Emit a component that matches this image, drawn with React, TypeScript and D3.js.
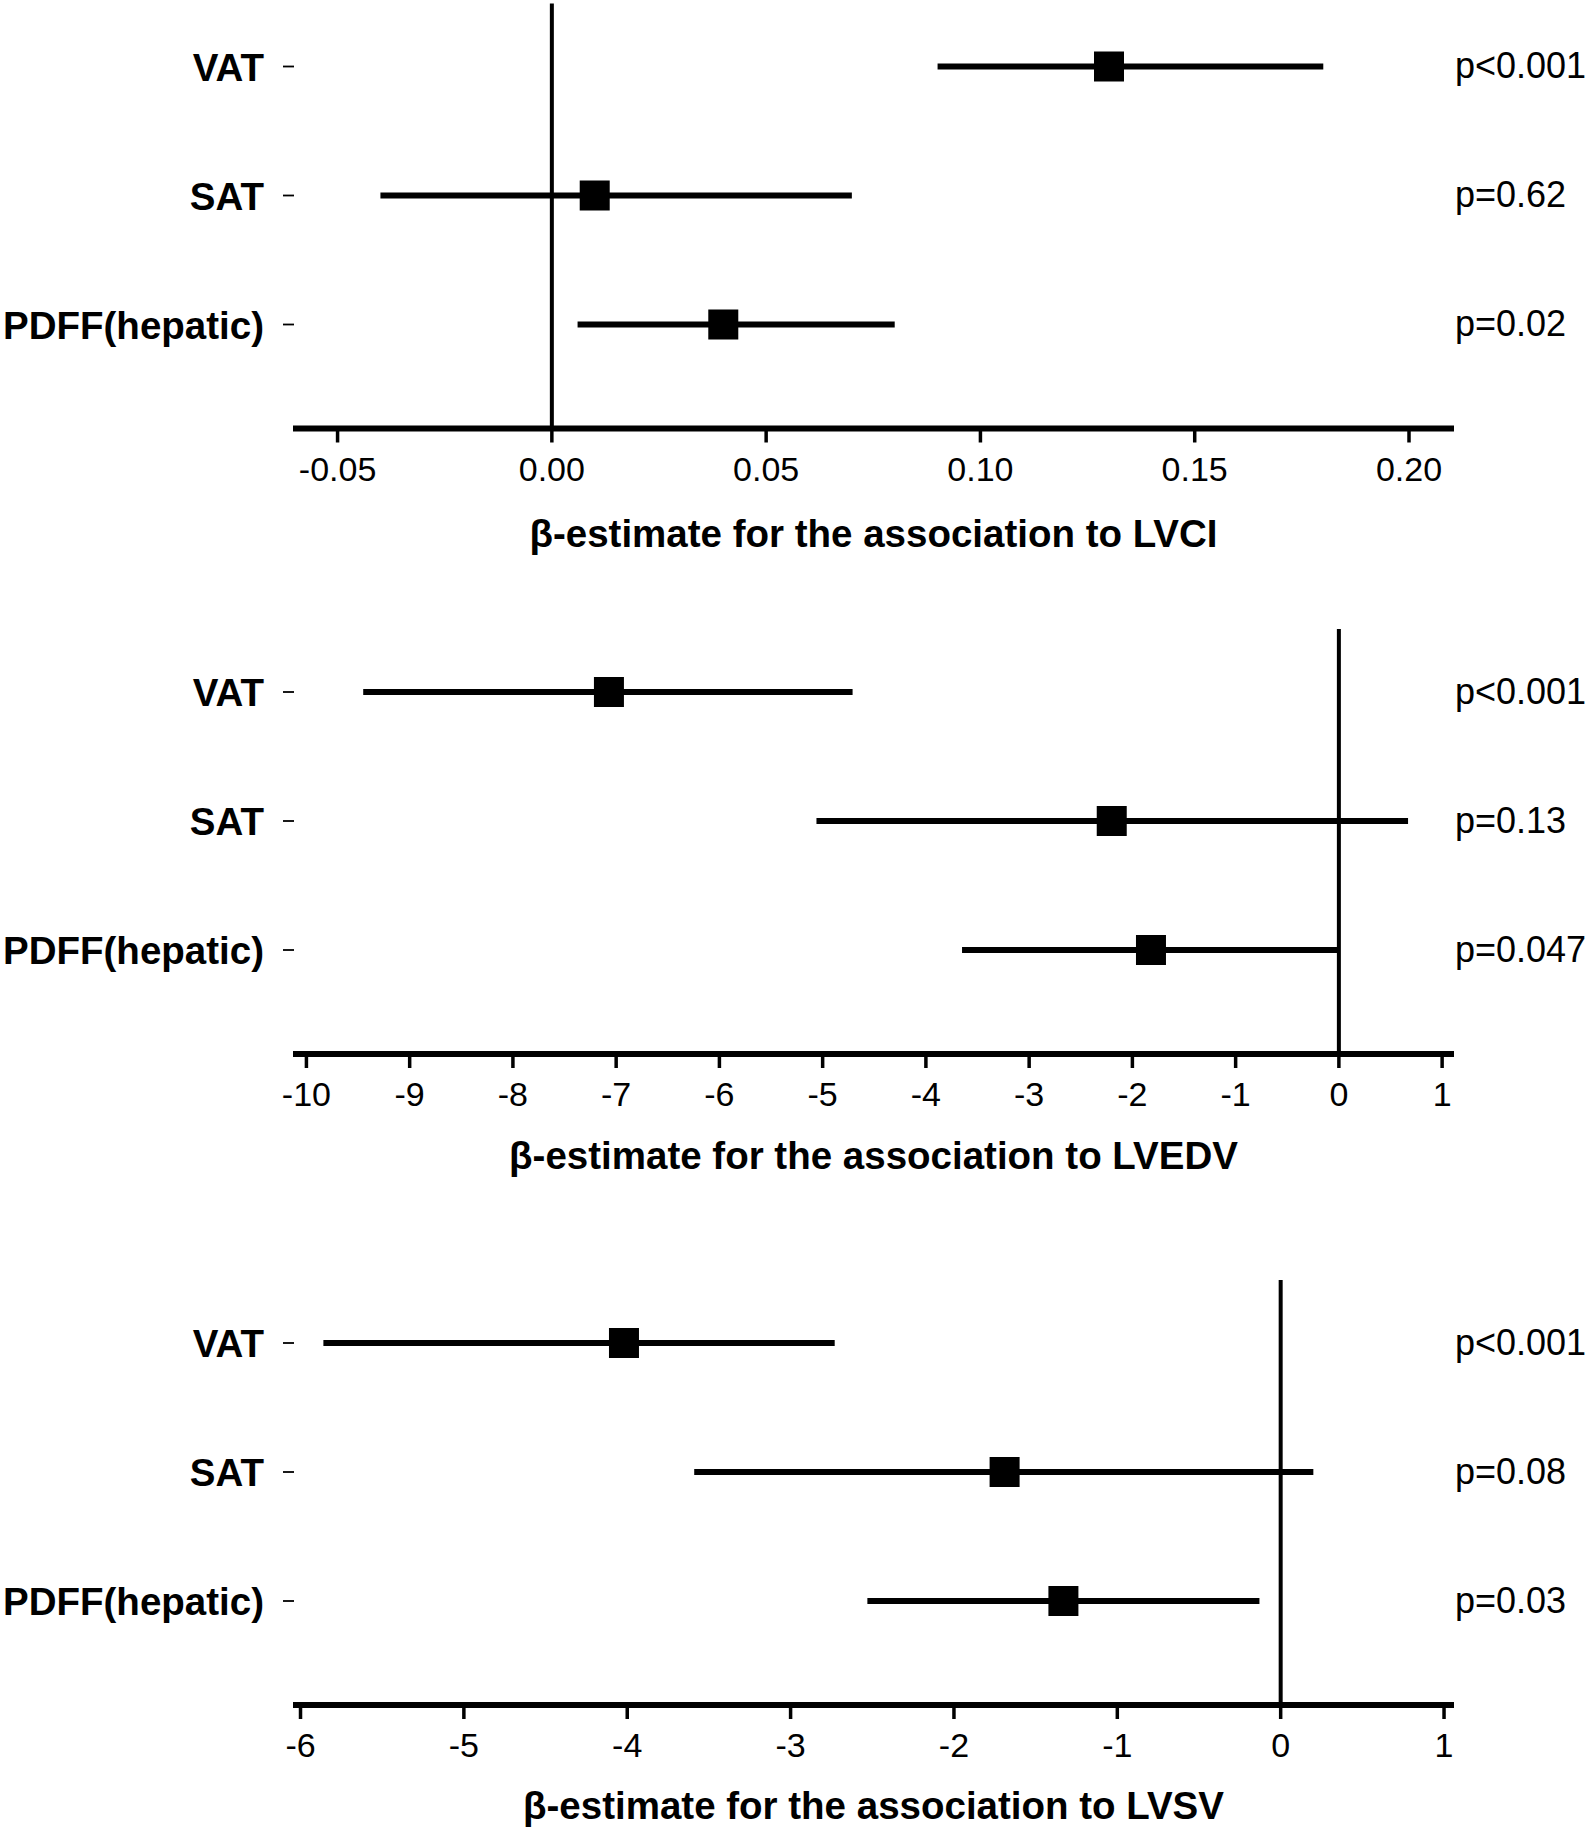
import React from "react";
import * as d3 from "d3";

const categories = ["VAT", "SAT", "PDFF(hepatic)"];

const lvciEstimate = [0.13, 0.01, 0.04];
const lvciLower = [0.09, -0.04, 0.006];
const lvciUpper = [0.18, 0.07, 0.08];
const lvciP = ["p<0.001", "p=0.62", "p=0.02"];
const lvciTicks = [-0.05, 0, 0.05, 0.1, 0.15, 0.2];
const lvciDomain = [-0.0604, 0.2105];

const lvedvEstimate = [-7.07, -2.2, -1.82];
const lvedvLower = [-9.45, -5.06, -3.65];
const lvedvUpper = [-4.71, 0.67, -0.01];
const lvedvP = ["p<0.001", "p=0.13", "p=0.047"];
const lvedvTicks = [-10, -9, -8, -7, -6, -5, -4, -3, -2, -1, 0, 1];
const lvedvDomain = [-10.13, 1.115];

const lvsvEstimate = [-4.02, -1.69, -1.33];
const lvsvLower = [-5.86, -3.59, -2.53];
const lvsvUpper = [-2.73, 0.2, -0.13];
const lvsvP = ["p<0.001", "p=0.08", "p=0.03"];
const lvsvTicks = [-6, -5, -4, -3, -2, -1, 0, 1];
const lvsvDomain = [-6.046, 1.061];

const W = 1595;
const H = 1829;
const FONT = "'Liberation Sans', Arial, Helvetica, sans-serif";

type PanelProps = {
  top: number;
  est: number[];
  lo: number[];
  hi: number[];
  pv: string[];
  ticks: number[];
  domain: number[];
  fmt: (v: number) => string;
  title: string;
  titleOffset: number;
};

function Panel({ top, est, lo, hi, pv, ticks, domain, fmt, title, titleOffset }: PanelProps) {
  const x = d3.scaleLinear().domain(domain).range([293, 1454]);
  const y = d3.scalePoint<string>().domain(categories).range([top, top + 258]);
  const axisY = top + 258 + 104;
  const zeroTop = top - 63;
  const sq = 30;
  return (
    <g>
      <line x1={x(0)} x2={x(0)} y1={zeroTop} y2={axisY} stroke="#000" strokeWidth={4} />
      {categories.map((c, i) => (
        <g key={c}>
          <line x1={283} x2={294} y1={y(c)} y2={y(c)} stroke="#000" strokeWidth={1.8} />
          <text
            transform={`translate(264,${y(c)}) scale(0.975,1)`}
            dy="0.36em"
            textAnchor="end"
            fontFamily={FONT}
            fontWeight="bold"
            fontSize={39.5}
          >
            {c}
          </text>
          <line x1={x(lo[i])} x2={x(hi[i])} y1={y(c)} y2={y(c)} stroke="#000" strokeWidth={6} />
          <rect x={x(est[i]) - sq / 2} y={(y(c) as number) - sq / 2} width={sq} height={sq} fill="#000" />
          <text x={1455} y={y(c)} dy="0.33em" fontFamily={FONT} fontSize={36}>
            {pv[i]}
          </text>
        </g>
      ))}
      <line x1={x.range()[0]} x2={x.range()[1]} y1={axisY} y2={axisY} stroke="#000" strokeWidth={6} />
      {ticks.map((t) => (
        <g key={t}>
          <line x1={x(t)} x2={x(t)} y1={axisY} y2={axisY + 14} stroke="#000" strokeWidth={3.5} />
          <text x={x(t)} y={axisY + 52} textAnchor="middle" fontFamily={FONT} fontSize={34}>
            {fmt(t)}
          </text>
        </g>
      ))}
      <text
        x={(x.range()[0] + x.range()[1]) / 2}
        y={axisY + titleOffset}
        textAnchor="middle"
        fontFamily={FONT}
        fontWeight="bold"
        fontSize={38.5}
      >
        {title}
      </text>
    </g>
  );
}

export default function App() {
  const fmt2 = (v: number) => d3.format(".2f")(v).replace("−", "-");
  const fmt0 = (v: number) => d3.format("d")(v).replace("−", "-");
  return (
    <svg
      width={W}
      height={H}
      viewBox={`0 0 ${W} ${H}`}
      style={{ position: "absolute", left: 0, top: 0, background: "#fff" }}
    >
      <rect x={0} y={0} width={W} height={H} fill="#fff" />
      <Panel
        top={66.5}
        est={lvciEstimate}
        lo={lvciLower}
        hi={lvciUpper}
        pv={lvciP}
        ticks={lvciTicks}
        domain={lvciDomain}
        fmt={fmt2}
        title="β-estimate for the association to LVCI"
        titleOffset={118}
      />
      <Panel
        top={692}
        est={lvedvEstimate}
        lo={lvedvLower}
        hi={lvedvUpper}
        pv={lvedvP}
        ticks={lvedvTicks}
        domain={lvedvDomain}
        fmt={fmt0}
        title="β-estimate for the association to LVEDV"
        titleOffset={115}
      />
      <Panel
        top={1343}
        est={lvsvEstimate}
        lo={lvsvLower}
        hi={lvsvUpper}
        pv={lvsvP}
        ticks={lvsvTicks}
        domain={lvsvDomain}
        fmt={fmt0}
        title="β-estimate for the association to LVSV"
        titleOffset={114}
      />
    </svg>
  );
}
